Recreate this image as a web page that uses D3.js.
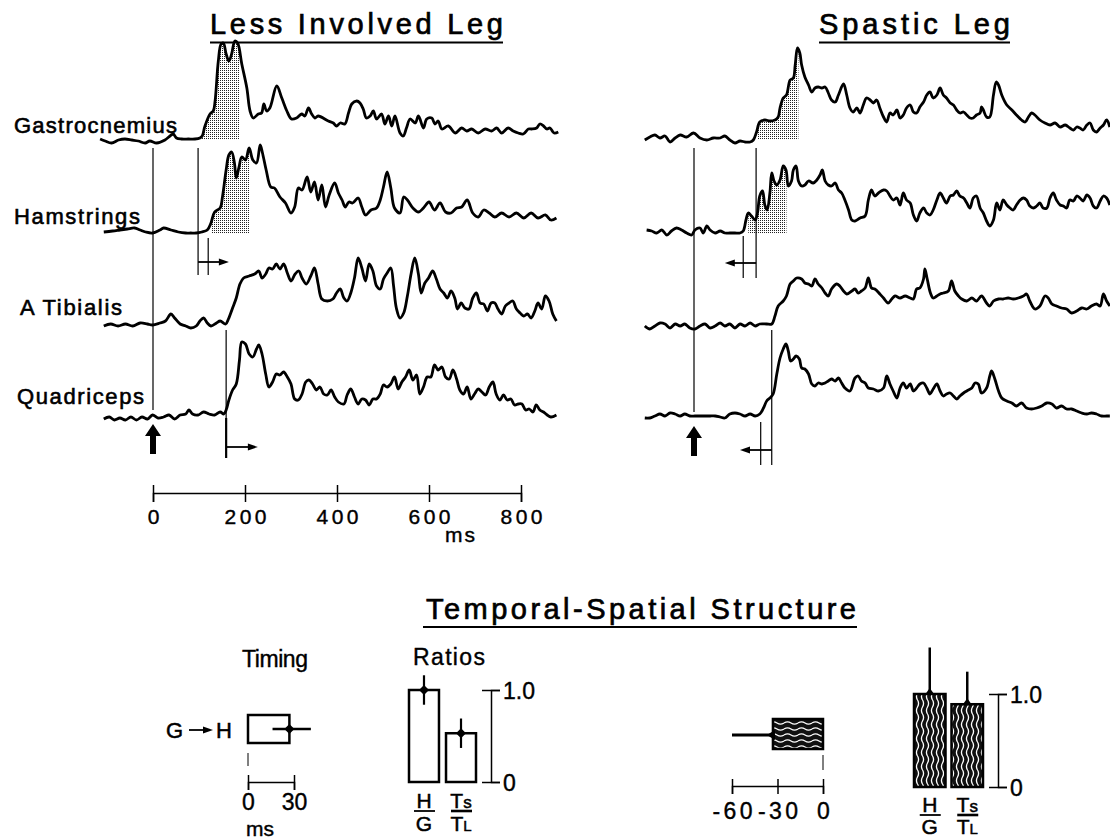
<!DOCTYPE html>
<html>
<head>
<meta charset="utf-8">
<script src="https://cdn.jsdelivr.net/npm/d3@7"></script>
<style>
  html, body { margin: 0; padding: 0; background: #fff; }
  svg { display: block; }
  text { font-family: "Liberation Sans", Arial, Helvetica, sans-serif; fill: #000; }
</style>
</head>
<body>
<svg id="chart" width="1110" height="839"></svg>
<script>
/* ---------- data ---------- */
const muscles = ["Gastrocnemius", "Hamstrings", "A Tibialis", "Quadriceps"];
const timeTicks = [0, 200, 400, 600, 800];

// EMG envelopes: [ms after perturbation, amplitude above baseline (a.u.)]
const lessGastroc = [[-115,1],[-104,-1],[-90,-3],[-75,0],[-61,1],[-46,0],[-32,-1],[-17,-3],[-7,-1],[8,-3],[26,0],[37,4],[44,6],[51,2],[62,1],[77,1],[91,1],[102,2],[107,4],[113,14],[124,26],[131,29],[135,39],[142,79],[148,96],[153,97],[159,86],[165,79],[171,86],[178,99],[184,97],[193,76],[204,52],[211,29],[218,22],[229,26],[236,27],[241,36],[247,29],[254,32],[269,54],[280,42],[291,29],[301,21],[312,22],[323,26],[330,24],[338,32],[345,26],[352,22],[359,24],[381,19],[392,17],[399,14],[407,17],[417,16],[425,27],[432,36],[443,39],[450,37],[457,31],[464,22],[472,24],[479,29],[486,21],[497,26],[504,16],[512,24],[519,14],[526,24],[537,7],[544,4],[551,12],[559,21],[570,17],[577,24],[588,12],[595,21],[606,22],[613,16],[620,19],[628,11],[642,14],[657,7],[671,12],[682,9],[693,11],[707,7],[722,11],[736,9],[747,12],[758,7],[772,12],[783,9],[794,7],[805,6],[816,11],[823,11],[834,12],[841,16],[849,14],[856,11],[863,12],[872,7],[881,8]];
const lessHam = [[-107,1],[-88,2],[-72,3],[-56,4],[-40,5],[-28,3],[-16,1],[-1,0],[15,3],[23,5],[39,3],[55,1],[71,0],[82,0],[94,0],[106,1],[118,3],[126,10],[134,21],[146,25],[151,36],[159,63],[165,78],[171,81],[177,70],[181,55],[187,66],[193,76],[201,73],[209,85],[217,73],[225,70],[233,88],[238,80],[246,63],[256,46],[264,45],[276,36],[288,30],[300,20],[308,26],[316,45],[324,43],[335,56],[343,41],[351,51],[359,33],[367,48],[375,26],[383,38],[395,50],[403,40],[411,33],[418,26],[426,31],[434,30],[446,35],[454,26],[462,18],[474,23],[486,25],[494,33],[501,46],[509,61],[517,45],[525,25],[537,20],[545,36],[553,33],[565,25],[577,21],[588,25],[600,31],[612,23],[624,30],[636,21],[648,20],[660,25],[671,26],[683,33],[695,20],[707,16],[719,23],[731,20],[743,16],[758,20],[774,16],[790,20],[806,15],[822,20],[837,15],[853,18],[865,13],[877,15]];
const lessTib = [[-107,0],[-92,2],[-76,0],[-60,2],[-44,0],[-28,3],[-12,2],[-1,1],[15,3],[27,5],[39,12],[47,8],[59,2],[71,0],[82,-2],[94,0],[102,5],[110,8],[118,3],[126,0],[138,3],[146,5],[158,2],[164,7],[173,18],[181,28],[189,42],[197,48],[209,50],[221,52],[230,55],[237,48],[245,52],[252,58],[260,57],[268,62],[276,57],[284,62],[292,53],[300,45],[309,52],[317,55],[324,48],[333,42],[343,50],[351,58],[359,42],[367,27],[379,25],[391,27],[399,33],[407,37],[415,28],[422,25],[430,33],[438,48],[446,68],[454,58],[462,45],[470,62],[478,55],[486,40],[494,37],[501,47],[509,53],[517,58],[523,40],[529,18],[537,8],[545,13],[553,30],[561,52],[569,68],[577,52],[583,33],[591,43],[599,48],[608,55],[616,47],[624,37],[632,33],[640,28],[648,35],[656,28],[662,17],[670,23],[678,18],[687,17],[695,28],[703,33],[711,23],[719,22],[727,15],[735,23],[743,23],[750,17],[758,12],[766,20],[774,23],[782,25],[790,17],[798,13],[806,10],[814,12],[822,8],[830,15],[837,23],[845,17],[853,30],[861,25],[869,12],[877,5]];
const lessQuad = [[-107,-2],[-95,0],[-84,-3],[-72,-1],[-60,-3],[-48,0],[-36,-3],[-24,0],[-12,-2],[-1,2],[11,-1],[23,0],[35,2],[47,-2],[59,2],[71,3],[78,7],[86,3],[98,2],[110,5],[122,3],[134,2],[146,5],[154,3],[159,7],[165,17],[173,27],[181,33],[188,57],[193,75],[201,73],[209,63],[217,60],[225,68],[230,72],[237,63],[245,43],[252,30],[260,35],[268,43],[276,42],[284,45],[292,40],[300,33],[308,18],[316,17],[324,23],[332,35],[339,37],[347,33],[355,27],[363,30],[371,23],[379,22],[387,27],[395,20],[403,15],[415,13],[422,22],[430,28],[438,20],[446,13],[454,18],[462,17],[470,12],[478,18],[486,18],[494,23],[501,32],[509,30],[517,33],[525,40],[533,28],[541,35],[549,40],[557,47],[565,37],[573,42],[580,23],[588,30],[596,40],[604,40],[612,52],[620,47],[628,50],[636,40],[644,38],[652,47],[660,38],[667,27],[675,23],[683,30],[691,18],[699,23],[707,28],[715,25],[723,22],[731,30],[739,35],[746,23],[754,17],[762,22],[770,17],[778,18],[786,12],[794,13],[802,13],[810,7],[818,8],[826,5],[833,12],[841,7],[849,5],[857,2],[865,0],[877,2]];

const spasGastroc = [[-107,0],[-96,3],[-85,5],[-74,2],[-63,4],[-52,-2],[-41,2],[-30,5],[-16,3],[-1,7],[13,2],[28,0],[42,2],[57,2],[67,4],[78,0],[89,-3],[100,-1],[111,-2],[122,-2],[129,0],[136,8],[143,18],[154,20],[165,19],[176,20],[183,23],[187,32],[194,42],[201,45],[209,60],[216,62],[220,75],[225,92],[230,87],[234,75],[241,63],[249,55],[256,48],[263,52],[270,53],[278,52],[285,53],[292,47],[299,40],[307,38],[314,45],[325,56],[332,45],[339,32],[346,28],[354,32],[361,27],[368,35],[375,42],[383,40],[390,37],[397,40],[404,32],[412,23],[419,18],[426,27],[433,25],[441,30],[448,22],[455,25],[462,32],[470,35],[477,28],[484,27],[491,33],[499,38],[506,45],[513,48],[520,42],[528,45],[535,52],[542,45],[549,42],[557,37],[564,35],[571,30],[578,27],[586,28],[593,25],[600,22],[607,22],[614,25],[622,27],[625,33],[629,30],[636,23],[643,23],[651,45],[657,58],[662,55],[669,45],[680,35],[691,30],[701,25],[712,20],[720,18],[727,23],[734,27],[741,25],[752,20],[763,17],[774,15],[785,17],[796,13],[807,15],[817,12],[825,10],[832,13],[839,12],[846,10],[854,15],[861,17],[868,10],[875,8],[883,12],[890,15],[897,20],[904,13]];
const spasHam = [[-103,3],[-92,2],[-81,0],[-70,3],[-59,-2],[-49,2],[-38,5],[-27,3],[-16,0],[-5,-2],[2,3],[13,5],[20,0],[28,7],[35,3],[46,0],[57,2],[67,0],[78,0],[89,0],[100,0],[107,2],[113,13],[118,20],[125,17],[133,13],[138,20],[143,37],[149,42],[154,28],[159,23],[165,40],[169,60],[174,52],[180,48],[187,53],[194,67],[200,63],[205,47],[212,52],[216,63],[222,67],[227,52],[234,47],[241,48],[249,52],[259,50],[267,53],[274,58],[279,63],[285,52],[292,48],[299,47],[307,50],[314,43],[321,40],[328,33],[336,23],[343,13],[350,12],[361,15],[372,17],[379,33],[386,43],[393,37],[401,40],[412,43],[419,42],[426,37],[433,33],[441,35],[448,28],[455,40],[462,33],[470,30],[477,18],[484,12],[491,20],[499,25],[506,20],[513,18],[520,23],[528,33],[535,40],[542,35],[549,30],[557,37],[564,38],[571,42],[578,37],[586,35],[593,30],[600,25],[607,35],[614,37],[622,25],[629,20],[636,12],[643,7],[651,13],[658,30],[665,23],[672,33],[680,28],[687,25],[694,23],[701,28],[709,33],[716,35],[723,33],[730,27],[738,25],[745,27],[752,30],[759,25],[767,25],[774,35],[781,40],[788,33],[796,28],[803,27],[810,25],[817,33],[825,32],[832,37],[839,35],[846,32],[854,38],[861,35],[868,27],[875,25],[883,32],[890,37],[897,35],[904,28]];
const spasTib = [[-107,0],[-96,-3],[-85,0],[-74,3],[-63,2],[-52,-2],[-41,2],[-30,0],[-20,2],[-9,-2],[2,-3],[13,0],[24,2],[35,-2],[46,0],[57,3],[67,0],[78,2],[89,-2],[100,2],[111,0],[122,3],[133,0],[143,2],[158,2],[169,2],[176,10],[183,20],[194,25],[201,30],[209,42],[216,45],[223,48],[234,47],[241,43],[249,42],[256,40],[263,47],[270,42],[278,38],[285,33],[292,30],[299,37],[310,42],[317,40],[325,35],[332,32],[343,35],[350,37],[357,33],[364,35],[372,38],[379,48],[386,38],[393,37],[404,32],[412,28],[422,23],[430,27],[437,30],[448,28],[459,30],[470,28],[477,27],[484,37],[491,38],[499,47],[502,57],[507,47],[514,33],[520,28],[528,30],[535,32],[542,33],[553,35],[560,45],[567,35],[575,30],[582,27],[593,25],[604,28],[614,25],[625,30],[636,23],[643,20],[651,25],[662,27],[672,27],[683,28],[694,27],[705,28],[716,30],[723,32],[730,25],[741,17],[752,20],[763,30],[770,28],[778,22],[788,20],[799,18],[810,17],[821,13],[832,15],[843,18],[854,17],[864,20],[875,22],[883,20],[890,32],[897,25],[904,20]];
const spasQuad = [[-107,-1],[-96,-1],[-85,1],[-74,3],[-63,1],[-52,4],[-41,3],[-30,1],[-20,3],[-9,1],[2,1],[13,1],[24,1],[35,1],[46,1],[57,0],[67,-1],[78,3],[89,4],[100,3],[111,1],[122,3],[133,1],[143,3],[151,9],[158,16],[165,19],[172,23],[180,43],[187,59],[194,68],[200,73],[205,66],[210,56],[216,58],[222,61],[229,58],[234,49],[241,48],[249,43],[256,33],[263,31],[270,34],[278,33],[285,34],[292,36],[299,38],[307,36],[314,39],[321,34],[328,29],[339,26],[350,39],[357,41],[364,36],[372,34],[379,29],[390,28],[401,26],[412,29],[419,41],[426,33],[433,26],[441,19],[448,29],[455,34],[462,29],[470,33],[477,26],[484,29],[491,33],[499,34],[506,29],[513,23],[520,28],[528,33],[535,26],[542,21],[549,23],[557,24],[564,21],[571,18],[578,21],[586,24],[593,26],[604,29],[611,34],[618,33],[625,24],[636,29],[643,41],[647,46],[654,38],[662,26],[669,19],[680,16],[691,14],[701,11],[712,14],[723,9],[734,8],[745,9],[756,11],[767,14],[778,13],[788,9],[799,11],[810,8],[821,8],[832,6],[843,4],[854,3],[864,4],[875,3],[886,1],[897,1],[904,1]];

// onsets (ms) and the windows that are stippled (G, H)
const lessOnsets = { G: 98, H: 120, TA: 159, Q: 159 };
const spasOnsets = { G: 135, H: 107, TA: 169, Q: 145 };
const lessArrowEnds = [165, 228];   // G->H arrow, TA->Q arrow
const spasArrowEnds = [67, 100];
const lessStipple = [[103, 189], [128, 209]];
const spasStipple = [[138, 227], [118, 201]];

// temporal-spatial summary
const ratioLabels = ["H/G", "Ts/TL"];
const lessRatios = [1.0, 0.53];
const lessRatioErr = [0.16, 0.16];
const spasRatios = [1.0, 0.89];
const spasRatioErr = [0.5, 0.35];
const lessTiming = 27, lessTimingErr = [16, 41];
const spasTiming = -33, spasTimingErr = [-60, -33];
const lessTimingTicks = [0, 30];
const spasTimingTicks = [-60, -30, 0];

/* ---------- layout ---------- */
const svg = d3.select('#chart');
const defs = svg.append('defs');
const baselines = [140, 233, 326, 417];
const labelPos = [
  { x: 14, y: 133, w: 163 }, { x: 14, y: 224, w: 126 },
  { x: 20, y: 315, w: 102 }, { x: 17, y: 404, w: 127 }
];

// stipple + wavy fills
const stip = defs.append('pattern').attr('id', 'stipple')
  .attr('width', 2).attr('height', 2).attr('patternUnits', 'userSpaceOnUse');
stip.append('rect').attr('width', 1).attr('height', 1).attr('fill', '#222');

const wavV = defs.append('pattern').attr('id', 'wavyV')
  .attr('width', 5).attr('height', 14).attr('patternUnits', 'userSpaceOnUse');
wavV.append('rect').attr('width', 5).attr('height', 14).attr('fill', '#111');
wavV.append('path').attr('d', 'M2.5,0 Q4.6,3.5 2.5,7 Q0.4,10.5 2.5,14')
  .attr('stroke', '#fff').attr('stroke-width', 1.3).attr('fill', 'none');

const wavH = defs.append('pattern').attr('id', 'wavyH')
  .attr('width', 14).attr('height', 6).attr('patternUnits', 'userSpaceOnUse');
wavH.append('rect').attr('width', 14).attr('height', 6).attr('fill', '#111');
wavH.append('path').attr('d', 'M0,3 Q3.5,0.8 7,3 Q10.5,5.2 14,3')
  .attr('stroke', '#fff').attr('stroke-width', 1.3).attr('fill', 'none');

function addText(g, str, x, y, opt = {}) {
  const t = g.append('text').attr('x', x).attr('y', y).text(str)
    .attr('font-size', opt.size || 20)
    .attr('text-anchor', opt.anchor || 'start');
  if (opt.len) t.attr('textLength', opt.len).attr('lengthAdjust', 'spacing');
  if (opt.heavy) t.attr('stroke', '#000').attr('stroke-width', opt.heavy);
  return t;
}

function vline(g, x, y1, y2, w) {
  g.append('line').attr('x1', x).attr('x2', x).attr('y1', y1).attr('y2', y2)
    .attr('stroke', '#000').attr('stroke-width', w || 1.2);
}

function hArrow(g, x1, x2, y) {
  const dir = x2 > x1 ? 1 : -1;
  g.append('line').attr('x1', x1).attr('x2', x2 - dir * 8).attr('y1', y).attr('y2', y)
    .attr('stroke', '#000').attr('stroke-width', 1.8);
  g.append('path')
    .attr('d', `M${x2},${y} L${x2 - dir * 10},${y - 3.5} L${x2 - dir * 10},${y + 3.5} Z`)
    .attr('fill', '#000');
}

function upArrow(g, x, yTip, yBot) {
  const hw = 8, hh = 12, sw = 3;
  g.append('path')
    .attr('d', `M${x},${yTip} L${x + hw},${yTip + hh} L${x + sw},${yTip + hh} L${x + sw},${yBot} ` +
               `L${x - sw},${yBot} L${x - sw},${yTip + hh} L${x - hw},${yTip + hh} Z`)
    .attr('fill', '#000');
}

/* ---------- EMG panels ---------- */
const amp = d3.scaleLinear().domain([0, 100]).range([0, 100]);

const panels = [
  { id: 'less', x0: 153, traces: [lessGastroc, lessHam, lessTib, lessQuad],
    stipple: lessStipple, title: 'Less Involved Leg', tx: 210, tw: 293 },
  { id: 'spas', x0: 694, traces: [spasGastroc, spasHam, spasTib, spasQuad],
    stipple: spasStipple, title: 'Spastic Leg', tx: 819, tw: 191 }
];

panels.forEach(p => {
  const g = svg.append('g').attr('class', 'panel-' + p.id);
  p.x = d3.scaleLinear().domain([0, 800]).range([p.x0, p.x0 + 368]);

  // title
  addText(g, p.title, p.tx, 34, { size: 29, len: p.tw, heavy: 0.7 });
  g.append('line').attr('x1', p.tx).attr('x2', p.tx + p.tw).attr('y1', 42.5).attr('y2', 42.5)
    .attr('stroke', '#000').attr('stroke-width', 2.2);

  p.traces.forEach((tr, i) => {
    const base = baselines[i];
    const yOf = d => base - amp(d[1]);
    const curve = d3.curveCatmullRom.alpha(0.5);

    // stippled area (G and H only)
    if (i < 2) {
      const [w0, w1] = p.stipple[i];
      const cid = `clip-${p.id}-${i}`;
      defs.append('clipPath').attr('id', cid).append('rect')
        .attr('x', p.x(w0)).attr('width', p.x(w1) - p.x(w0))
        .attr('y', 0).attr('height', base + 1);
      const area = d3.area().x(d => p.x(d[0])).y0(base).y1(yOf).curve(curve);
      g.append('path').datum(tr).attr('d', area)
        .attr('fill', 'url(#stipple)').attr('clip-path', `url(#${cid})`);
    }

    const line = d3.line().x(d => p.x(d[0])).y(yOf).curve(curve);
    g.append('path').datum(tr).attr('d', line)
      .attr('fill', 'none').attr('stroke', '#000')
      .attr('stroke-width', 2.8).attr('stroke-linejoin', 'round');
  });
});

// muscle labels (left side only)
muscles.forEach((m, i) => {
  addText(svg, m, labelPos[i].x, labelPos[i].y, { size: 22, len: labelPos[i].w, heavy: 0.6 });
});

// onset markers, less involved leg
{
  const p = panels[0], g = svg.append('g');
  vline(g, p.x(0), 148, 410);
  upArrow(g, p.x(0), 424, 454);
  vline(g, p.x(lessOnsets.G), 148, 275);
  vline(g, p.x(lessOnsets.H), 238, 275);
  hArrow(g, p.x(lessOnsets.G), p.x(lessArrowEnds[0]), 262);
  vline(g, p.x(lessOnsets.TA), 330, 418);
  vline(g, p.x(lessOnsets.Q), 418, 458, 2.2);
  hArrow(g, p.x(lessOnsets.Q), p.x(lessArrowEnds[1]), 447);
}
// onset markers, spastic leg
{
  const p = panels[1], g = svg.append('g');
  vline(g, p.x(0), 148, 412);
  upArrow(g, p.x(0), 426, 456);
  vline(g, p.x(spasOnsets.G), 148, 278);
  vline(g, p.x(spasOnsets.H), 236, 278);
  hArrow(g, p.x(spasOnsets.G), p.x(spasArrowEnds[0]), 263);
  vline(g, p.x(spasOnsets.TA), 330, 465);
  vline(g, p.x(spasOnsets.Q), 422, 465);
  hArrow(g, p.x(spasOnsets.TA), p.x(spasArrowEnds[1]), 450);
}

// time axis
const timeAxis = svg.append('g').attr('transform', 'translate(0,493)')
  .call(d3.axisBottom(panels[0].x).tickValues(timeTicks).tickSizeOuter(0).tickSize(9));
function styleAxis(sel, size) {
  sel.attr('font-family', null).attr('font-size', null);
  sel.select('.domain').attr('stroke-width', 1.5);
  sel.selectAll('.tick line').attr('stroke-width', 1.5);
  sel.selectAll('.tick text').attr('font-size', size).attr('fill', '#000').attr('dy', null)
    .attr('stroke', '#000').attr('stroke-width', 0.4);
}
styleAxis(timeAxis, 21);
timeAxis.selectAll('.tick line').attr('y1', -8).attr('y2', 9);
timeAxis.selectAll('.tick text').attr('y', 31)
  .each(function (d) { if (d >= 100) d3.select(this).attr('textLength', 42).attr('lengthAdjust', 'spacing'); });
addText(svg, 'ms', 460, 542, { size: 21, anchor: 'middle', len: 30, heavy: 0.4 });

/* ---------- temporal-spatial structure ---------- */
addText(svg, 'Temporal-Spatial Structure', 426, 619, { size: 29, len: 430, heavy: 0.7 });
svg.append('line').attr('x1', 423).attr('x2', 857).attr('y1', 627).attr('y2', 627)
  .attr('stroke', '#000').attr('stroke-width', 2.2);

addText(svg, 'Timing', 242, 667, { size: 23, len: 66, heavy: 0.4 });
addText(svg, 'Ratios', 413, 665, { size: 23, len: 72, heavy: 0.4 });

// G -> H label
addText(svg, 'G', 166, 738, { size: 22, heavy: 0.5 });
hArrow(svg, 189, 213, 730);
addText(svg, 'H', 216, 738, { size: 22, heavy: 0.5 });

function diamond(g, x, y, r) {
  g.append('path').attr('d', `M${x - r},${y} L${x},${y - r} L${x + r},${y} L${x},${y + r} Z`).attr('fill', '#000');
}

function timingAxis(xs, ticks, y, labelY) {
  const ax = svg.append('g').attr('transform', `translate(0,${y})`)
    .call(d3.axisBottom(xs).tickValues(ticks).tickSizeOuter(0).tickSize(8).tickFormat(d => String(d)));
  styleAxis(ax, 23);
  ax.selectAll('.tick line').attr('y1', -7).attr('y2', 8);
  ax.selectAll('.tick text').attr('y', labelY - y);
  return ax;
}

// less involved timing
{
  const xt = d3.scaleLinear().domain([0, 30]).range([248, 294]);
  svg.append('rect').attr('x', xt(0)).attr('y', 715)
    .attr('width', xt(lessTiming) - xt(0)).attr('height', 28)
    .attr('fill', '#fff').attr('stroke', '#000').attr('stroke-width', 2.5);
  svg.append('line').attr('x1', xt(lessTimingErr[0])).attr('x2', xt(lessTimingErr[1]))
    .attr('y1', 729).attr('y2', 729).attr('stroke', '#000').attr('stroke-width', 2.5);
  diamond(svg, xt(lessTiming), 729, 5);
  vline(svg, xt(0), 753, 766, 1);
  timingAxis(xt, lessTimingTicks, 782, 810);
  addText(svg, 'ms', 260, 836, { size: 21, anchor: 'middle', heavy: 0.4 });
}
// spastic timing
{
  const xt = d3.scaleLinear().domain([-60, 0]).range([732, 823]);
  svg.append('rect').attr('x', xt(spasTiming)).attr('y', 719)
    .attr('width', xt(0) - xt(spasTiming)).attr('height', 30)
    .attr('fill', 'url(#wavyH)').attr('stroke', '#000').attr('stroke-width', 2.5);
  svg.append('line').attr('x1', xt(spasTimingErr[0])).attr('x2', xt(spasTimingErr[1]))
    .attr('y1', 735).attr('y2', 735).attr('stroke', '#000').attr('stroke-width', 3);
  svg.append('path').attr('d', `M${xt(spasTiming) - 6},735 L${xt(spasTiming) + 2},730 L${xt(spasTiming) + 2},740 Z`).attr('fill', '#000');
  vline(svg, xt(0), 755, 770, 1);
  const ax = timingAxis(xt, spasTimingTicks, 786, 819);
  ax.selectAll('.tick text').each(function (d) { if (d < 0) d3.select(this).attr('textLength', 40).attr('lengthAdjust', 'spacing'); });
}

function fraction(g, cx, top, bot, lineY, botY, isTs) {
  if (!isTs) {
    addText(g, top, cx, lineY - 3, { size: 21, anchor: 'middle', heavy: 0.5 });
    addText(g, bot, cx, botY, { size: 21, anchor: 'middle', heavy: 0.5 });
  } else {
    const t1 = g.append('text').attr('x', cx).attr('y', lineY - 3).attr('text-anchor', 'middle')
      .attr('font-size', 21).attr('stroke', '#000').attr('stroke-width', 0.5);
    t1.append('tspan').text('T');
    t1.append('tspan').attr('font-size', 17).text('s');
    const t2 = g.append('text').attr('x', cx).attr('y', botY).attr('text-anchor', 'middle')
      .attr('font-size', 21).attr('stroke', '#000').attr('stroke-width', 0.5);
    t2.append('tspan').text('T');
    t2.append('tspan').attr('font-size', 15).text('L');
  }
  g.append('line').attr('x1', cx - 10).attr('x2', cx + 11).attr('y1', lineY).attr('y2', lineY)
    .attr('stroke', '#000').attr('stroke-width', isTs ? 2.6 : 1.8);
}

function ratioPanel(opt) {
  const g = svg.append('g');
  const y = d3.scaleLinear().domain([0, 1]).range([opt.y0, opt.y1]);
  const xb = d3.scaleBand().domain(ratioLabels).range(opt.xr).paddingInner(opt.pad).paddingOuter(0);

  g.selectAll('rect.bar').data(ratioLabels).join('rect').attr('class', 'bar')
    .attr('x', d => xb(d)).attr('width', xb.bandwidth())
    .attr('y', (d, i) => y(opt.vals[i])).attr('height', (d, i) => opt.y0 - y(opt.vals[i]))
    .attr('fill', opt.fill).attr('stroke', '#000').attr('stroke-width', 2.5);

  ratioLabels.forEach((lab, i) => {
    const cx = xb(lab) + xb.bandwidth() / 2;
    const v = opt.vals[i], e = opt.errs[i];
    const lo = opt.upperOnly ? v : v - e;
    g.append('line').attr('x1', cx).attr('x2', cx).attr('y1', y(lo)).attr('y2', y(v + e))
      .attr('stroke', '#000').attr('stroke-width', opt.upperOnly ? 2.5 : 2.2);
    if (opt.upperOnly) {
      g.append('path').attr('d', `M${cx - 5},${y(v) + 1} L${cx},${y(v) - 6} L${cx + 5},${y(v) + 1} Z`).attr('fill', '#000');
    } else {
      diamond(g, cx, y(v), 5);
    }
    const parts = lab.split('/');
    fraction(g, cx, parts[0], parts[1], opt.lineY, opt.botY, i === 1);
  });

  const ax = g.append('g').attr('transform', `translate(${opt.ax},0)`)
    .call(d3.axisRight(y).tickValues([0, 1]).tickSizeOuter(0).tickSize(9)
      .tickFormat(d => d ? '1.0' : '0'));
  styleAxis(ax, 23);
  ax.selectAll('.tick line').attr('x1', -9).attr('x2', 9);
  ax.selectAll('.tick text').attr('x', 12).attr('dy', '0.36em');
}

ratioPanel({ vals: lessRatios, errs: lessRatioErr, y0: 782, y1: 690, xr: [409, 476], pad: 0.19,
  fill: '#fff', ax: 491, lineY: 811, botY: 831, upperOnly: false });
ratioPanel({ vals: spasRatios, errs: spasRatioErr, y0: 787, y1: 694, xr: [914, 983], pad: 0.16,
  fill: 'url(#wavyV)', ax: 998, lineY: 815, botY: 834, upperOnly: true });
</script>
</body>
</html>
